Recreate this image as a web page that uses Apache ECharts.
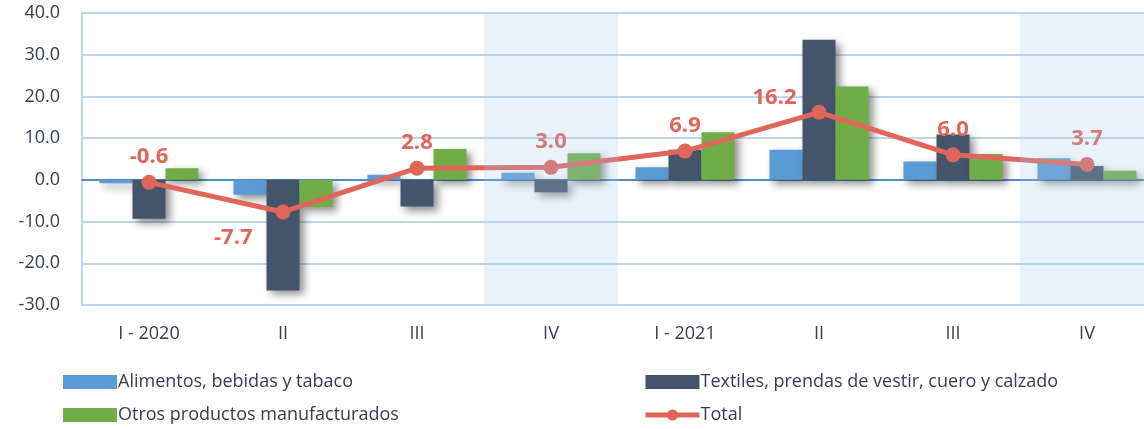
<!DOCTYPE html>
<html>
<head>
<meta charset="utf-8">
<script src="https://cdn.jsdelivr.net/npm/echarts@6/dist/echarts.min.js"></script>
<style>
  html, body { margin: 0; padding: 0; background: #fff; }
  #chart { width: 1144px; height: 429px; }
</style>
</head>
<body>
<div id="chart"></div>
<script>
var categories = ['I - 2020', 'II', 'III', 'IV', 'I - 2021', 'II', 'III', 'IV'];
var alimentos = [-0.8, -3.6, 1.2, 1.7, 3.0, 7.2, 4.4, 5.2];
var textiles = [-9.3, -26.5, -6.4, -3.0, 7.2, 33.6, 10.9, 3.3];
var otros = [2.8, -6.5, 7.4, 6.4, 11.4, 22.4, 6.2, 2.2];
var total = [-0.6, -7.7, 2.8, 3.0, 6.9, 16.2, 6.0, 3.7];
var shadedCats = [3, 7];

var chart = echarts.init(document.getElementById('chart'));
var font = 'Open Sans';
var barShadow = {
    shadowColor: 'rgba(0,0,0,0.45)',
    shadowBlur: 8,
    shadowOffsetX: 4,
    shadowOffsetY: 4
};

function barSeries(name, data, color) {
    return {
        name: name,
        type: 'bar',
        data: data,
        barWidth: 33,
        barGap: '0%',
        itemStyle: Object.assign({ color: color }, barShadow)
    };
}

var totalData = total.map(function(v, i) {
    var item = { value: v };
    if (i === 1) item.label = { position: 'left', offset: [-16, 26] };
    if (i === 5) item.label = { position: 'left', offset: [-8, -15] };
    return item;
});

var option = {
    animation: false,
    textStyle: { fontFamily: font },
    grid: { left: 82, top: 13, width: 1072, bottom: 124, outerBoundsMode: 'none', containLabel: false },
    legend: [
        {
            left: 58, top: 368, orient: 'vertical', itemGap: 15,
            itemWidth: 54, itemHeight: 14,
            textStyle: { fontSize: 18, color: '#333f50', fontFamily: font, padding: [0, 0, 0, -4] },
            data: [
                { name: 'Alimentos, bebidas y tabaco', icon: 'rect' },
                { name: 'Otros productos manufacturados', icon: 'rect' }
            ]
        },
        {
            left: 638, top: 368, orient: 'vertical', itemGap: 15,
            itemWidth: 54, itemHeight: 14,
            textStyle: { fontSize: 18, color: '#333f50', fontFamily: font, padding: [0, 0, 0, -4] },
            data: [
                { name: 'Textiles, prendas de vestir, cuero y calzado', icon: 'rect' },
                { name: 'Total', itemStyle: { borderWidth: 0 }, lineStyle: { width: 5 } }
            ]
        }
    ],
    xAxis: {
        type: 'category',
        data: categories,
        axisTick: { show: false },
        axisLine: { onZero: true, lineStyle: { color: '#2e75b6', width: 1.5 } },
        axisLabel: { position: 'bottom', fontSize: 18, color: '#333f50', margin: 20, fontFamily: font },
        splitLine: {
            show: true,
            interval: function(index) { return index === 4; },
            lineStyle: { color: '#bdd7ee', width: 2 }
        }
    },
    yAxis: {
        type: 'value',
        min: -30,
        max: 40,
        interval: 10,
        axisLine: { show: true, lineStyle: { color: '#bdd7ee', width: 2 } },
        axisTick: { show: false },
        axisLabel: {
            fontSize: 18, color: '#333f50', margin: 22, fontFamily: font,
            formatter: function(v) { return v.toFixed(1); }
        },
        splitLine: { lineStyle: { color: '#bdd7ee', width: 2 } }
    },
    series: [
        barSeries('Alimentos, bebidas y tabaco', alimentos, '#5b9bd5'),
        barSeries('Textiles, prendas de vestir, cuero y calzado', textiles, '#44546a'),
        barSeries('Otros productos manufacturados', otros, '#70ad47'),
        {
            name: 'Total',
            type: 'line',
            data: totalData,
            symbol: 'circle',
            symbolSize: 15,
            z: 5,
            lineStyle: { color: '#e0655a', width: 5 },
            itemStyle: { color: '#e0655a' },
            label: {
                show: true,
                position: 'top',
                distance: 7,
                fontSize: 22,
                fontWeight: 'bold',
                color: '#e0655a',
                fontFamily: font,
                formatter: function(p) { return p.value.toFixed(1); }
            }
        },
        {
            name: 'shade',
            type: 'custom',
            z: 10,
            silent: true,
            data: shadedCats.map(function(c) { return [c, 40]; }),
            encode: { x: 0, y: 1 },
            renderItem: function(params, api) {
                var idx = api.value(0);
                var top = api.coord([idx, 40]);
                var bottom = api.coord([idx, -30]);
                var w = api.size([1, 0])[0];
                return {
                    type: 'rect',
                    shape: { x: top[0] - w / 2, y: top[1], width: w, height: bottom[1] - top[1] },
                    style: { fill: 'rgba(168,200,232,0.25)' }
                };
            }
        }
    ]
};

chart.setOption(option);
</script>
</body>
</html>
